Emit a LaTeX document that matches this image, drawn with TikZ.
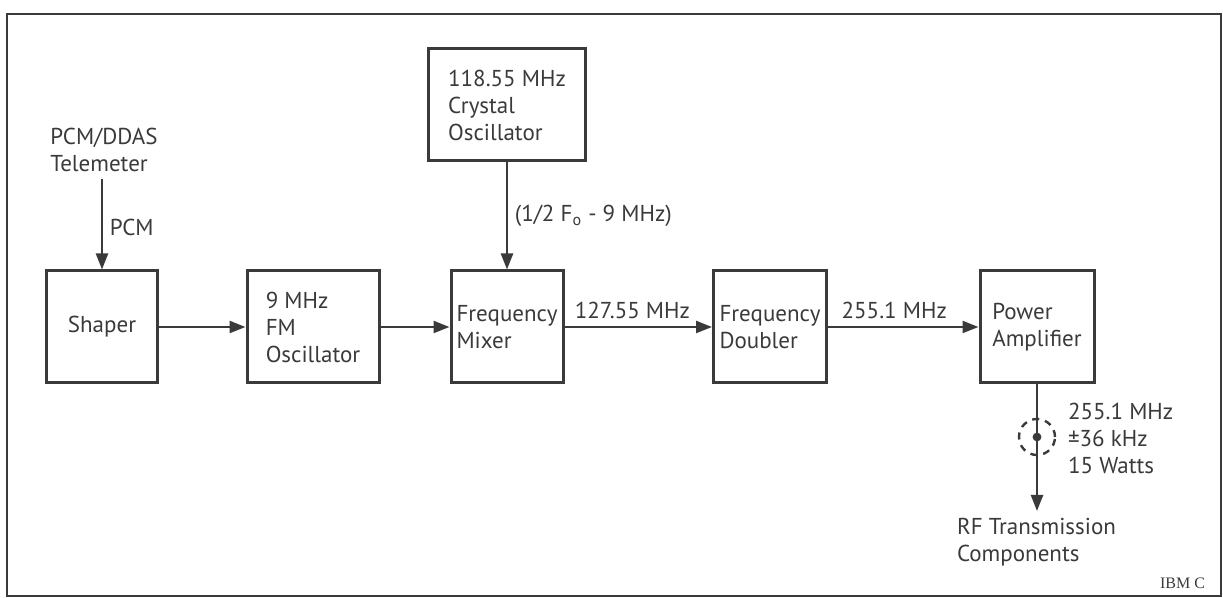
\documentclass[tikz,border=0pt]{standalone}
\usepackage{fontspec}
\setmainfont{PT Sans}
\newfontfamily\ibmfont{Liberation Serif}
\usetikzlibrary{arrows.meta}
\definecolor{ink}{HTML}{3A3A3A}

\begin{document}
\begin{tikzpicture}[x=0.5pt, y=-0.5pt,
  every node/.style={font=\fontsize{11.5}{13.5}\selectfont, text=ink},
  blockbox/.style={draw=ink, line width=1.5pt, align=left, inner sep=2pt, minimum height=56pt},
  sig/.style={draw=ink, line width=1.2pt, -{Triangle[length=8pt,width=6pt]}}]
  \useasboundingbox (0,0) rectangle (1223,598);
  % outer frame
  \draw[ink, line width=1.2pt] (7,14) rectangle (1221,596);
  % blocks
  \node[blockbox, minimum width=55.5pt] (shaper) at (102,327) {Shaper};
  \node[blockbox, minimum width=66pt] (fmosc) at (313,327) {9 MHz\\FM\\Oscillator};
  \node[blockbox, minimum width=56pt] (mixer) at (507,327) {Frequency\\Mixer};
  \node[blockbox, minimum width=78.5pt] (xtal) at (507,105) {118.55 MHz\\Crystal\\Oscillator};
  \node[blockbox, minimum width=56.5pt] (doubler) at (770,327) {Frequency\\Doubler};
  \node[blockbox, minimum width=57pt] (amp) at (1037,327) {Power\\Amplifier};
  % free labels
  \node[align=left] (tlm) at (104,150) {PCM/DDAS\\Telemeter};
  \node[align=left, anchor=west] (rating) at (1061,438) {255.1 MHz\\±36 kHz\\15 Watts};
  \node[align=left, anchor=north west] (rfc) at (950,511) {RF Transmission\\Components};
  \node[font=\ibmfont\fontsize{8}{9}\selectfont, anchor=east] (tag) at (1212,583) {IBM C};
  % signal path
  \draw[sig] (tlm.south -| shaper.north) -- node[right, pos=0.54] {PCM} (shaper.north);
  \draw[sig] (xtal) -- node[right, pos=0.5] {(1/2 F\textsubscript{o} - 9 MHz)} (mixer);
  \draw[sig] (shaper) -- (fmosc);
  \draw[sig] (fmosc) -- (mixer);
  \draw[sig] (mixer) -- node[above, pos=0.46] {127.55 MHz} (doubler);
  \draw[sig] (doubler) -- node[above, pos=0.44] {255.1 MHz} (amp);
  % coax output
  \coordinate (jack) at (1037,437);
  \draw[sig] (amp) -- (amp.south |- rfc.north);
  \draw[ink, line width=1.2pt, dash pattern=on 3.5pt off 3pt] (jack) circle (9pt);
  \fill[ink] (jack) circle (2.2pt);
\end{tikzpicture}
\end{document}
